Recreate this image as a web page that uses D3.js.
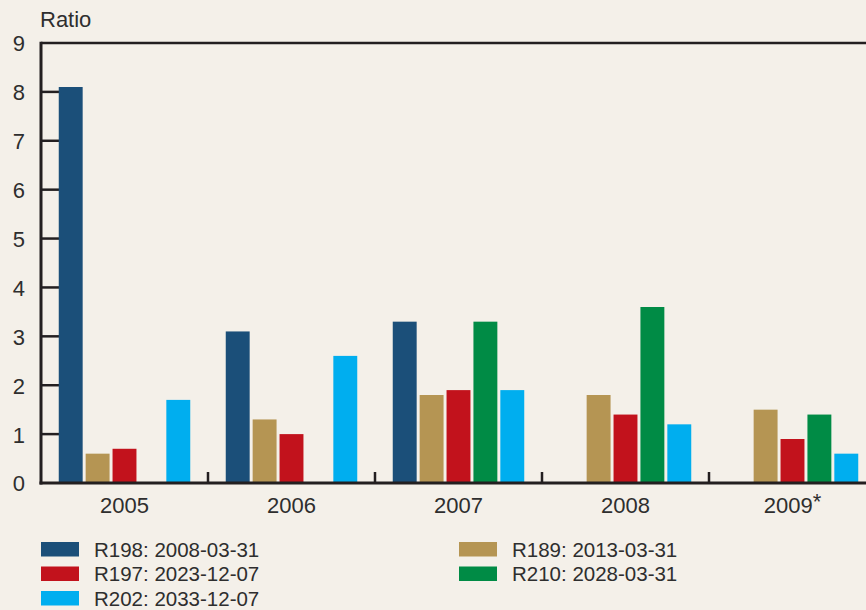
<!DOCTYPE html>
<html>
<head>
<meta charset="utf-8">
<script src="https://cdn.jsdelivr.net/npm/d3@7"></script>
<style>
  html, body { margin: 0; padding: 0; background: #f4f0e9; }
  svg { display: block; }
  text { font-family: "Liberation Sans", Arial, Helvetica, sans-serif; fill: #2e2e2e; }
</style>
</head>
<body>
<div id="chart"></div>
<script>
const years = ["2005", "2006", "2007", "2008", "2009"];
const yearLabels = ["2005", "2006", "2007", "2008", "2009*"];
const seriesNames = ["R198: 2008-03-31", "R189: 2013-03-31", "R197: 2023-12-07", "R210: 2028-03-31", "R202: 2033-12-07"];
const seriesColors = ["#1b4f79", "#b59553", "#c2121c", "#008b45", "#00aeef"];
// values per year, in series order [R198, R189, R197, R210, R202]; null = no bar
const R198 = [8.1, 3.1, 3.3, null, null];
const R189 = [0.6, 1.3, 1.8, 1.8, 1.5];
const R197 = [0.7, 1.0, 1.9, 1.4, 0.9];
const R210 = [null, null, 3.3, 3.6, 1.4];
const R202 = [1.7, 2.6, 1.9, 1.2, 0.6];
const yTicks = [0, 1, 2, 3, 4, 5, 6, 7, 8, 9];
const yTitle = "Ratio";

const seriesValues = [R198, R189, R197, R210, R202];
const W = 866, H = 610;
const mLeft = 41, mRight = 876, mTop = 43, mBottom = 483;

const svg = d3.select("#chart").append("svg").attr("width", W).attr("height", H);
svg.append("rect").attr("width", W).attr("height", H).attr("fill", "#f4f0e9");

const x = d3.scaleBand().domain(years).range([mLeft, mRight]).paddingInner(0).paddingOuter(0);
const xs = d3.scaleBand().domain(d3.range(seriesNames.length)).range([0, x.bandwidth()])
  .paddingInner(0.111).paddingOuter(0.66);
const y = d3.scaleLinear().domain([0, 9]).range([mBottom, mTop]);

// y tick labels
const yAxis = d3.axisLeft(y).tickValues(yTicks).tickSize(0).tickPadding(16);
const gy = svg.append("g").attr("transform", `translate(${mLeft},0)`).call(yAxis);
gy.attr("font-family", null);
gy.select(".domain").remove();
gy.selectAll("text").attr("font-size", 22).attr("text-anchor", "end").attr("x", -16).attr("dy", "0.36em")
  .style("fill", "#2e2e2e");
// inward ticks (drawn under bars)
svg.append("g").selectAll("line").data(yTicks.filter(d => d > 0 && d < 9)).join("line")
  .attr("x1", mLeft).attr("x2", mLeft + 20)
  .attr("y1", d => y(d)).attr("y2", d => y(d))
  .attr("stroke", "#231f20").attr("stroke-width", 2.5);

// bars
const barData = [];
years.forEach((yr, i) => {
  seriesValues.forEach((vals, s) => {
    if (vals[i] != null) barData.push({ yr, s, v: vals[i] });
  });
});
svg.append("g").selectAll("rect").data(barData).join("rect")
  .attr("x", d => x(d.yr) + xs(d.s))
  .attr("width", xs.bandwidth())
  .attr("y", d => y(d.v))
  .attr("height", d => y(0) - y(d.v))
  .attr("fill", d => seriesColors[d.s]);

// frame lines
svg.append("line").attr("x1", mLeft).attr("x2", W).attr("y1", mTop).attr("y2", mTop)
  .attr("stroke", "#231f20").attr("stroke-width", 2.5);
svg.append("line").attr("x1", mLeft).attr("x2", mLeft).attr("y1", mTop - 1.25).attr("y2", mBottom + 1.5)
  .attr("stroke", "#231f20").attr("stroke-width", 3);
svg.append("line").attr("x1", mLeft - 1.5).attr("x2", W).attr("y1", mBottom).attr("y2", mBottom)
  .attr("stroke", "#231f20").attr("stroke-width", 3);

// group separators
svg.append("g").selectAll("line").data(years.slice(1)).join("line")
  .attr("x1", d => x(d)).attr("x2", d => x(d))
  .attr("y1", mBottom).attr("y2", mBottom - 11)
  .attr("stroke", "#231f20").attr("stroke-width", 2.5);

// x labels
const xl = svg.append("g").selectAll("text").data(years).join("text")
  .attr("x", d => x(d) + x.bandwidth() / 2)
  .attr("y", 513)
  .attr("text-anchor", "middle")
  .attr("font-size", 22);
xl.each(function(d, i) {
  const lab = yearLabels[i];
  const t = d3.select(this);
  if (lab.endsWith("*")) {
    t.append("tspan").text(lab.slice(0, -1));
    t.append("tspan").text("*").attr("dy", -4).attr("font-size", 22);
  } else {
    t.text(lab);
  }
});

// y title
svg.append("text").attr("x", 40).attr("y", 27).attr("font-size", 22).text(yTitle);

// legend
const legendPos = [
  { s: 0, x: 41, y: 542 },
  { s: 2, x: 41, y: 566.5 },
  { s: 4, x: 41, y: 591 },
  { s: 1, x: 459, y: 542 },
  { s: 3, x: 459, y: 566.5 }
];
const lg = svg.append("g").selectAll("g").data(legendPos).join("g")
  .attr("transform", d => `translate(${d.x},${d.y})`);
lg.append("rect").attr("width", 38).attr("height", 14.5).attr("fill", d => seriesColors[d.s]);
lg.append("text").attr("x", 53).attr("y", 14.5).attr("font-size", 20.5).text(d => seriesNames[d.s]);
</script>
</body>
</html>
